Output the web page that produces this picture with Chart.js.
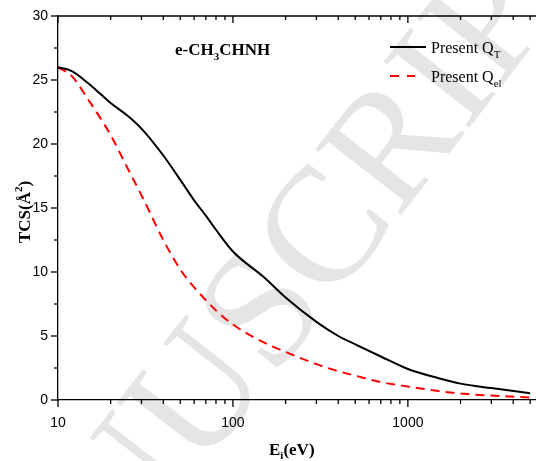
<!DOCTYPE html>
<html>
<head>
<meta charset="utf-8">
<script src="https://cdn.jsdelivr.net/npm/chart.js@4.4.1/dist/chart.umd.min.js"></script>
<style>
  html, body { margin: 0; padding: 0; background: #fff; }
  #wrap { width: 536px; height: 461px; }
</style>
</head>
<body>
<div id="wrap"><canvas id="tcsChart" width="536" height="461"></canvas></div>
<script>
// energies (eV) and cross sections (Å^2)
const energies = [10, 12, 15, 17.5, 20, 25, 30, 40, 50, 60, 70, 80, 100, 150, 200, 300, 400, 500, 700, 1000, 1500, 2000, 3000, 5000];
const qTotal   = [26.0, 25.7, 24.7, 23.9, 23.2, 22.2, 21.2, 19.1, 17.2, 15.6, 14.4, 13.3, 11.6, 9.6, 8.0, 6.1, 5.0, 4.35, 3.4, 2.42, 1.7, 1.28, 0.93, 0.52];
const qElastic = [26.0, 25.3, 23.4, 22.0, 20.7, 18.1, 16.0, 12.5, 10.2, 8.8, 7.8, 7.0, 5.9, 4.5, 3.75, 2.8, 2.25, 1.9, 1.4, 1.05, 0.7, 0.5, 0.35, 0.2];
const yTicks = [0, 5, 10, 15, 20, 25, 30];
const xLabels = [10, 100, 1000];

const serif = "'Liberation Serif', 'Times New Roman', serif";
const sans = "'Liberation Sans', Arial, sans-serif";

const pts = (ys) => energies.map((e, i) => ({ x: e, y: ys[i] }));

// watermark, ticks, legend and titles
const decor = {
  id: "decor",
  beforeDraw(chart) {
    const c = chart.ctx;
    c.save();
    c.translate(256, 330);
    c.rotate(-52 * Math.PI / 180);
    c.font = "165px " + serif;
    c.fillStyle = "#e5e5e5";
    c.textAlign = "center";
    c.textBaseline = "middle";
    c.fillText("MANUSCRIPT", 0, 0);
    c.restore();
  },
  afterDraw(chart) {
    const c = chart.ctx;
    const xs = chart.scales.x, ys = chart.scales.y;
    const a = chart.chartArea;
    c.save();
    c.strokeStyle = "#000";
    c.lineWidth = 1.3;
    // top border
    c.beginPath();
    c.moveTo(a.left, a.top); c.lineTo(a.right, a.top);
    c.stroke();
    // y ticks (major outward, minor shorter)
    for (let v = 0; v <= 30; v += 2.5) {
      const py = ys.getPixelForValue(v);
      const len = v % 5 === 0 ? 7 : 4;
      c.beginPath();
      c.moveTo(a.left - len, py); c.lineTo(a.left, py);
      c.stroke();
    }
    // x ticks, log decades
    for (let d = 10; d <= 1000; d *= 10) {
      for (let m = 1; m <= 9; m++) {
        const v = d * m;
        if (v > xs.max) break;
        const px = xs.getPixelForValue(v);
        const len = m === 1 ? 7 : 4;
        c.beginPath();
        c.moveTo(px, a.bottom); c.lineTo(px, a.bottom + len);
        c.moveTo(px, a.top); c.lineTo(px, a.top + len);
        c.stroke();
      }
    }
    c.restore();

    c.save();
    c.fillStyle = "#000";
    c.textBaseline = "alphabetic";
    // title
    c.font = "bold 17px " + serif;
    let x = 175;
    c.fillText("e-CH", x, 55); x += c.measureText("e-CH").width;
    c.font = "bold 11px " + serif;
    c.fillText("3", x, 60); x += c.measureText("3").width;
    c.font = "bold 17px " + serif;
    c.fillText("CHNH", x, 55);

    // legend
    c.strokeStyle = "#000";
    c.lineWidth = 2;
    c.beginPath(); c.moveTo(390, 47); c.lineTo(426, 47); c.stroke();
    c.strokeStyle = "#ff0000";
    c.setLineDash([9, 8]);
    c.beginPath(); c.moveTo(390, 76); c.lineTo(415, 76); c.stroke();
    c.setLineDash([]);
    c.font = "16px " + serif;
    c.fillText("Present Q", 431, 53);
    let w = c.measureText("Present Q").width;
    c.font = "11px " + serif;
    c.fillText("T", 431 + w, 58);
    c.font = "16px " + serif;
    c.fillText("Present Q", 431, 82);
    c.font = "11px " + serif;
    c.fillText("el", 431 + w, 87);

    // x title
    c.font = "bold 17px " + serif;
    x = 269;
    c.fillText("E", x, 455); x += c.measureText("E").width;
    c.font = "bold 11px " + serif;
    c.fillText("i", x, 459); x += c.measureText("i").width;
    c.font = "bold 17px " + serif;
    c.fillText("(eV)", x, 455);

    // y title
    c.translate(30, 212);
    c.rotate(-Math.PI / 2);
    const t1 = "TCS(Å", t2 = ")";
    c.font = "bold 17px " + serif;
    const w1 = c.measureText(t1).width, w3 = c.measureText(t2).width;
    c.font = "bold 11px " + serif;
    const w2 = c.measureText("2").width;
    let sx = -(w1 + w2 + w3) / 2;
    c.font = "bold 17px " + serif;
    c.fillText(t1, sx, 0); sx += w1;
    c.font = "bold 11px " + serif;
    c.fillText("2", sx, -8); sx += w2;
    c.font = "bold 17px " + serif;
    c.fillText(t2, sx, 0);
    c.restore();
  }
};

const ctx = document.getElementById("tcsChart").getContext("2d");

new Chart(ctx, {
  type: "line",
  data: {
    datasets: [
      {
        label: "Present QT",
        data: pts(qTotal),
        borderColor: "#000",
        borderWidth: 2,
        pointRadius: 0,
        cubicInterpolationMode: "monotone",
        fill: false,
      },
      {
        label: "Present Qel",
        data: pts(qElastic),
        borderColor: "#ff0000",
        borderWidth: 2,
        borderDash: [9, 6],
        pointRadius: 0,
        cubicInterpolationMode: "monotone",
        fill: false,
      },
    ],
  },
  options: {
    responsive: false,
    animation: false,
    layout: { padding: { top: 16, right: 0, left: 0, bottom: 0 } },
    plugins: { legend: { display: false }, tooltip: { enabled: false } },
    scales: {
      x: {
        type: "logarithmic",
        min: 10,
        max: 5400,
        afterFit: (s) => { s.height = 61; s.paddingRight = 0; s.paddingLeft = 0; },
        grid: { display: false },
        border: { display: true, color: "#000", width: 1.3 },
        ticks: {
          autoSkip: false,
          maxRotation: 0,
          padding: 7,
          color: "#000",
          font: { family: sans, size: 14 },
          callback: (v) => (xLabels.includes(v) ? String(v) : ""),
        },
      },
      y: {
        min: 0,
        max: 30,
        afterFit: (s) => { s.width = 58; s.paddingTop = 0; s.paddingBottom = 0; },
        afterBuildTicks: (s) => { s.ticks = yTicks.map((v) => ({ value: v })); },
        grid: { display: false },
        border: { display: true, color: "#000", width: 1.3 },
        ticks: {
          padding: 2,
          color: "#000",
          font: { family: sans, size: 14 },
        },
      },
    },
  },
  plugins: [decor],
});
</script>
</body>
</html>
